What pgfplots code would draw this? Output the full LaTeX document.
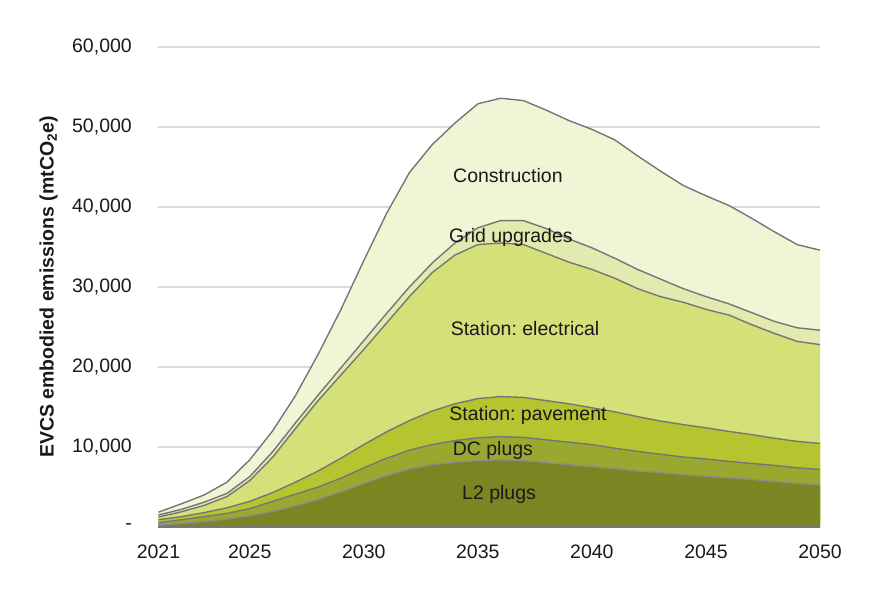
\documentclass[border=0pt]{standalone}
\usepackage{pgfplots}
\usepackage{pgfplotstable}
\pgfplotsset{compat=1.18}
\usepackage{fontspec}
\setmainfont{Liberation Sans}
\frenchspacing
\definecolor{cConstr}{HTML}{F1F5D5}
\definecolor{cGrid}{HTML}{E3EAB0}
\definecolor{cElec}{HTML}{D4E078}
\definecolor{cPave}{HTML}{B6C430}
\definecolor{cDC}{HTML}{99A82E}
\definecolor{cLtwo}{HTML}{7B8522}
\definecolor{cLine}{HTML}{767676}
\definecolor{cTxt}{HTML}{1A1A1A}

% cumulative tops of the stacked areas
\pgfplotstableread{
year T G E P D L
2021 1850 1500 1250 900 540 250
2022 2900 2200 1900 1300 900 450
2023 4000 3100 2700 1800 1300 700
2024 5600 4200 3800 2400 1700 1000
2025 8400 6300 5800 3200 2300 1400
2026 12000 9400 8700 4300 3200 1950
2027 16400 13000 12300 5600 4100 2650
2028 21600 16500 15800 7000 5000 3450
2029 27200 19900 19000 8600 6100 4400
2030 33300 23300 22200 10300 7400 5450
2031 39200 26700 25500 11900 8600 6450
2032 44300 30000 28800 13300 9600 7250
2033 47800 33000 31800 14500 10300 7800
2034 50500 35500 34000 15400 10800 8100
2035 52900 37400 35300 16050 11150 8300
2036 53600 38300 35500 16300 11300 8400
2037 53300 38300 35300 16200 11200 8300
2038 52100 37300 34200 15800 10900 8050
2039 50800 36000 33100 15400 10600 7800
2040 49700 34900 32200 14900 10300 7550
2041 48400 33600 31100 14400 9850 7300
2042 46400 32200 29800 13800 9450 7000
2043 44500 31000 28800 13250 9100 6800
2044 42700 29800 28100 12800 8750 6550
2045 41400 28800 27200 12400 8500 6350
2046 40200 27900 26500 11950 8200 6150
2047 38600 26800 25300 11550 7950 5950
2048 36900 25700 24200 11100 7700 5700
2049 35300 24900 23200 10700 7400 5450
2050 34600 24600 22800 10450 7200 5250
}\data

\begin{document}
\begin{tikzpicture}
\begin{axis}[
  name=ax,
  at={(0,0)}, anchor=south west,
  scale only axis,
  width=661.5pt, height=480pt,
  xmin=2021, xmax=2050,
  ymin=0, ymax=60000,
  scaled y ticks=false,
  axis x line=bottom, axis y line=left,
  x axis line style={-, draw=cLine, line width=2pt},
  y axis line style={draw=none},
  major tick length=0pt,
  tick style={draw=none},
  xtick={2021,2025,2030,2035,2040,2045,2050},
  xticklabels={2021,2025,2030,2035,2040,2045,2050},
  ytick={0,10000,20000,30000,40000,50000,60000},
  yticklabels={{-},{10,000},{20,000},{30,000},{40,000},{50,000},{60,000}},
  ymajorgrids,
  grid style={draw=black!15, line width=1.5pt},
  tick label style={font=\fontsize{19.5}{23}\selectfont, text=cTxt},
  xticklabel style={inner ysep=0pt, anchor=north, yshift=-18pt},
  yticklabel style={inner xsep=0pt, anchor=east, xshift=-26.5pt},
  ylabel={EVCS embodied emissions (mtCO\textsubscript{2}e)},
  ylabel style={at={(axis description cs:-0.166,0.5)}, anchor=center,
    font=\fontsize{19.5}{23}\selectfont\bfseries, text=cTxt},
  clip=false,
]
\addplot[draw=none, fill=cConstr] table[x=year, y=T] {\data} \closedcycle;
\addplot[draw=none, fill=cGrid] table[x=year, y=G] {\data} \closedcycle;
\addplot[draw=none, fill=cElec] table[x=year, y=E] {\data} \closedcycle;
\addplot[draw=none, fill=cPave] table[x=year, y=P] {\data} \closedcycle;
\addplot[draw=none, fill=cDC] table[x=year, y=D] {\data} \closedcycle;
\addplot[draw=none, fill=cLtwo] table[x=year, y=L] {\data} \closedcycle;
\addplot[cLine, line width=1.4pt, line join=round] table[x=year, y=T] {\data};
\addplot[cLine, line width=1.4pt, line join=round] table[x=year, y=G] {\data};
\addplot[cLine, line width=1.4pt, line join=round] table[x=year, y=E] {\data};
\addplot[cLine, line width=1.4pt, line join=round] table[x=year, y=P] {\data};
\addplot[cLine, line width=1.4pt, line join=round] table[x=year, y=D] {\data};
\addplot[black!45, line width=1.4pt, line join=round] table[x=year, y=L] {\data};
\addplot[cLine, line width=2pt] coordinates {(2021,0) (2050,0)};
\begin{scope}[every node/.style={font=\fontsize{19.5}{23}\selectfont, text=cTxt}]
\node at (axis cs:2036.32,43875) {Construction};
\node at (axis cs:2036.45,36250) {Grid upgrades};
\node at (axis cs:2037.07,24750) {Station: electrical};
\node at (axis cs:2037.2,14000) {Station: pavement};
\node at (axis cs:2035.66,9625) {DC plugs};
\node at (axis cs:2035.93,4125) {L2 plugs};
\end{scope}
\end{axis}
\path ([xshift=-158.5pt,yshift=-66pt]ax.south west) rectangle ([xshift=54pt,yshift=47pt]ax.north east);
\end{tikzpicture}
\end{document}
